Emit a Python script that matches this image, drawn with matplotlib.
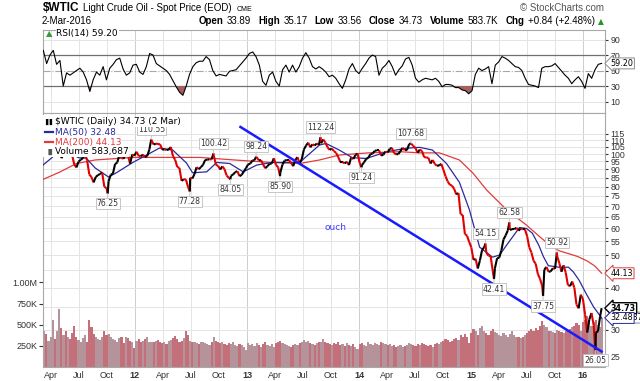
import numpy as np
import pandas as pd
import matplotlib
matplotlib.use('Agg')
import matplotlib.pyplot as plt
import matplotlib.dates as mdates
from matplotlib.collections import LineCollection
from matplotlib.patches import Rectangle
from matplotlib.ticker import NullLocator

plt.rcParams['font.family'] = ['Liberation Sans', 'DejaVu Sans']

# ---------------- data ----------------
# weekly closes (Fridays) of $WTIC
close_2011 = [101.2, 101.1, 105.4, 107.9, 112.8, 109.7, 112.3, 113.9, 97.2, 99.7,
              99.5, 100.6, 100.2, 99.3, 93.0, 91.2, 94.9, 96.2, 97.2, 99.9,
              95.7, 86.9, 85.4, 82.3, 85.4, 86.5, 87.2, 88.0, 79.9, 79.2,
              83.0, 86.8, 87.4, 93.3, 94.3, 99.0, 97.4, 96.8, 101.0, 99.4,
              93.5, 99.7, 98.8]
close_2012 = [101.6, 98.7, 98.5, 99.6, 97.8, 98.7, 103.2, 109.8, 106.7, 107.4,
              107.1, 106.9, 103.0, 103.3, 102.8, 103.1, 104.9, 98.5, 96.1, 91.5,
              90.9, 83.2, 84.1, 84.0, 79.8, 85.0, 84.5, 87.1, 91.4, 90.1,
              91.4, 92.9, 96.0, 96.2, 96.5, 96.4, 99.0, 92.9, 92.2, 89.9,
              91.9, 90.1, 86.3, 84.9, 86.1, 86.9, 88.3, 88.9, 85.9, 86.7,
              88.7, 90.8]
close_2013 = [93.1, 93.6, 95.6, 95.9, 97.8, 95.7, 95.9, 93.1, 90.7, 92.0,
              93.5, 93.7, 97.2, 92.7, 91.3, 88.0, 93.0, 95.6, 96.0, 96.0,
              94.2, 92.0, 96.0, 97.9, 93.7, 96.6, 103.2, 106.0, 108.1, 104.7,
              106.9, 106.0, 107.5, 106.4, 107.7, 110.5, 108.2, 104.7, 102.9, 103.8,
              102.0, 100.8, 97.9, 94.6, 94.6, 93.8, 94.8, 92.7, 97.7, 96.6,
              99.3, 100.3]
close_2014 = [94.0, 92.7, 94.4, 96.6, 97.5, 99.9, 100.3, 102.2, 102.6, 102.6,
              98.9, 99.5, 101.7, 101.1, 103.7, 104.3, 100.6, 99.8, 100.0, 102.0,
              104.4, 102.7, 102.7, 106.9, 107.3, 105.7, 104.1, 100.8, 103.1, 102.1,
              97.9, 97.7, 97.4, 93.7, 96.0, 93.3, 92.3, 92.4, 93.5, 89.7,
              85.8, 82.8, 81.0, 80.5, 78.7, 75.8, 76.5, 66.2, 65.8, 57.8,
              57.1, 54.7]
close_2015 = [52.7, 48.4, 48.7, 45.6, 48.2, 51.7, 52.8, 50.8, 49.8, 49.6,
              44.8, 45.7, 48.9, 49.1, 51.6, 55.7, 57.2, 59.2, 59.4, 59.7,
              59.7, 60.3, 59.1, 60.0, 59.6, 59.6, 56.9, 52.7, 50.9, 48.1,
              47.1, 43.9, 42.5, 40.5, 45.2, 46.1, 44.6, 44.7, 45.7, 45.5,
              49.6, 47.3, 44.6, 46.6, 44.3, 40.7, 40.4, 41.7, 40.0, 35.6,
              34.7, 38.1]
close_2016 = [37.0, 33.2, 29.4, 32.2, 33.6, 30.9, 29.4, 29.6, 32.8]
close_wk = close_2011 + close_2012 + close_2013 + close_2014 + close_2015 + close_2016
week_dates = pd.date_range('2011-03-11', '2016-02-26', freq='W-FRI')

# weekly volume, thousands
vol_2011 = [430, 390, 310, 360, 560, 330, 420, 690, 460, 380,
            430, 350, 330, 400, 480, 360, 320, 300, 340, 380,
            290, 550, 470, 390, 350, 330, 320, 360, 420, 380,
            390, 350, 330, 320, 300, 340, 350, 280, 360, 340,
            310, 290, 220]
vol_2012 = [310, 330, 290, 310, 330, 350, 300, 290, 300, 310,
            320, 300, 280, 290, 270, 310, 320, 340, 370, 330,
            300, 310, 340, 430, 380, 310, 300, 290, 280, 270,
            300, 290, 280, 270, 260, 300, 350, 310, 290, 280,
            300, 270, 260, 280, 270, 290, 260, 250, 270, 260,
            240, 200]
vol_2013 = [280, 260, 270, 250, 280, 260, 240, 270, 290, 260,
            250, 270, 240, 280, 300, 310, 280, 270, 260, 250,
            240, 260, 270, 260, 280, 290, 320, 300, 310, 280,
            270, 260, 280, 290, 300, 330, 300, 280, 270, 260,
            280, 270, 290, 260, 270, 250, 280, 260, 250, 270,
            240, 210]
vol_2014 = [270, 280, 260, 250, 290, 270, 260, 280, 270, 260,
            300, 280, 270, 260, 270, 250, 260, 240, 250, 260,
            240, 250, 260, 280, 270, 260, 250, 270, 260, 280,
            270, 260, 250, 260, 240, 270, 280, 270, 290, 310,
            330, 320, 300, 310, 330, 340, 320, 380, 360, 390,
            350, 280]
vol_2015 = [400, 450, 420, 380, 460, 480, 430, 400, 380, 420,
            450, 410, 400, 380, 370, 400, 380, 360, 390, 420,
            380, 360, 350, 340, 360, 380, 400, 420, 450, 430,
            460, 440, 480, 540, 500, 470, 430, 420, 410, 400,
            440, 430, 410, 400, 420, 440, 450, 470, 480, 520,
            500, 420]
vol_2016 = [530, 560, 600, 520, 480, 530, 560, 500, 470]
vol_wk = vol_2011 + vol_2012 + vol_2013 + vol_2014 + vol_2015 + vol_2016

last_date = pd.Timestamp('2016-03-02')
last_close = 34.73
last_volume = 583687
hdr_open, hdr_high, hdr_low = 33.89, 35.17, 33.56
hdr_chg, hdr_chg_pct = 0.84, 2.48

# labelled swing highs / lows
swing_dates = pd.to_datetime(['2011-10-04', '2012-02-23', '2012-06-28', '2012-09-13',
                              '2012-11-07', '2013-01-30', '2013-04-18', '2013-08-28',
                              '2014-01-09', '2014-06-19', '2015-02-17', '2015-03-17',
                              '2015-05-06', '2015-08-24', '2015-10-08', '2016-02-11'])
swing_values = [76.25, 110.55, 77.28, 100.42, 84.05, 98.24, 85.90, 112.24,
                91.24, 107.68, 54.15, 42.41, 62.58, 37.75, 50.92, 26.05]
swing_low = [1, 0, 1, 0, 1, 0, 1, 0, 1, 0, 0, 1, 0, 1, 0, 1]

ma50_dates = pd.to_datetime([
    '2011-03-07', '2011-04-06', '2011-05-01', '2011-06-01', '2011-07-01', '2011-07-26',
    '2011-08-24', '2011-10-07', '2011-11-02', '2011-12-25', '2012-02-08', '2012-03-21',
    '2012-05-03', '2012-06-17', '2012-07-07', '2012-08-22', '2012-09-24', '2012-11-05',
    '2012-12-19', '2013-02-01', '2013-03-24', '2013-05-09', '2013-06-21', '2013-08-25',
    '2013-09-15', '2013-10-28', '2013-12-10', '2014-01-25', '2014-04-01', '2014-06-05',
    '2014-07-17', '2014-08-28', '2014-10-13', '2014-11-24', '2014-12-27', '2015-01-29',
    '2015-03-12', '2015-04-04', '2015-04-27', '2015-06-08', '2015-07-01', '2015-07-20',
    '2015-08-10', '2015-08-25', '2015-09-10', '2015-10-15', '2015-11-15', '2015-12-01',
    '2015-12-20', '2016-01-10', '2016-02-05', '2016-03-02'])
ma50_values = [92.7, 97.7, 104.0, 101.0, 97.5, 97.2, 90.9, 85.4, 88.0, 94.4,
               99.3, 104.2, 102.8, 94.0, 87.9, 88.5, 94.4, 93.7, 88.5, 92.7,
               94.4, 94.4, 94.4, 106.4, 107.5, 102.8, 97.5, 97.0, 101.6, 104.1,
               104.7, 102.8, 93.7, 82.4, 68.1, 52.8, 49.3, 50.0, 53.5, 60.4,
               60.0, 58.1, 53.5, 49.5, 46.5, 46.0, 46.0, 44.5, 42.0, 38.6,
               35.0, 32.48]

ma200_dates = pd.to_datetime([
    '2011-03-07', '2011-04-30', '2011-06-24', '2011-08-24', '2011-12-25', '2012-04-15',
    '2012-08-01', '2012-11-20', '2013-03-20', '2013-06-21', '2013-08-25', '2013-10-28',
    '2014-02-01', '2014-05-15', '2014-07-17', '2014-09-20', '2014-11-24', '2015-01-07',
    '2015-02-21', '2015-04-28', '2015-07-01', '2015-08-15', '2015-09-15', '2015-10-15',
    '2015-11-15', '2015-12-15', '2016-01-15', '2016-02-10', '2016-03-02'])
ma200_values = [84.0, 88.3, 93.7, 96.0, 97.7, 97.7, 97.7, 96.0, 94.4, 93.7,
                96.0, 99.3, 100.8, 101.6, 100.8, 100.8, 96.0, 87.8, 78.1, 68.1,
                61.4, 56.5, 53.5, 51.5, 50.5, 49.5, 48.0, 46.3, 44.13]

# RSI(14), read roughly every 11 days
rsi_a = [76, 59, 70, 76, 58, 63, 30, 47, 44, 47,
         50, 53, 48, 38, 23, 38, 48, 44, 55, 38,
         53, 58, 64, 66, 52, 44, 47, 57, 58, 48,
         45, 55, 72, 70, 59, 56, 53, 50, 45, 37,
         29, 22, 18, 30, 45, 55, 60, 62, 62, 68,
         64, 50, 43, 45, 44, 43, 49, 50, 51, 56,
         61, 66, 72, 74, 68, 57, 36, 31, 44, 48,
         36, 30, 51, 57, 48, 57, 48, 55, 66, 73,
         66, 55, 52]
rsi_b = [55, 52, 48, 42, 44, 40, 33, 27, 38, 52,
         59, 50, 46, 53, 59, 66, 70, 68, 44, 53,
         57, 63, 55, 44, 51, 56, 65, 67, 57, 40,
         35, 38, 40, 39, 38, 40, 36, 29, 32, 32,
         31, 28, 28, 25, 24, 20, 24, 45, 53, 50,
         52, 55, 33, 57, 61, 68, 66, 63, 59, 55,
         54, 50, 40, 32, 31, 30, 28, 53, 55, 55,
         56, 59, 54, 49, 44, 40, 33, 38, 42, 36,
         27, 46, 40, 51, 58, 59.20]
rsi_values = rsi_a + rsi_b
rsi_dates = pd.date_range('2011-03-08', '2016-03-02', periods=len(rsi_values))

trend_dates = pd.to_datetime(['2012-12-10', '2016-03-02'])
trend_values = [120.4, 25.8]
note_date, note_value = pd.Timestamp('2013-09-10'), 60.5

price_ticks = [25, 30, 35, 40, 45, 50, 55, 60, 65, 70, 75, 80, 85, 90, 95, 100, 105, 110, 115]
vol_ticks = [250e3, 500e3, 750e3, 1e6]
vol_labels = ['250K', '500K', '750K', '1.00M']

# ---------------- style ----------------
UP, DOWN = '#000000', '#e00000'
MA50_C, MA200_C = '#2a2a9c', '#e23b3b'
GRID, GRID_YEAR, SPINE = '#e4e4e4', '#cdcdcd', '#a8a8a8'
VOL_RED, VOL_GREY = '#c4707a', '#b4949a'
PANEL_FONT = ['DejaVu Sans']

W, H = 640, 381
fig = plt.figure(figsize=(W / 100, H / 100), dpi=100)


def px_box(x0, y0, x1, y1):
    return [x0 / W, 1 - y1 / H, (x1 - x0) / W, (y1 - y0) / H]


ax_rsi = fig.add_axes(px_box(43, 30, 605, 113))
ax_vol = fig.add_axes(px_box(43, 113, 605, 367))
ax = fig.add_axes(px_box(43, 113, 605, 367))
ax.patch.set_visible(False)

xlim = mdates.date2num([pd.Timestamp('2011-03-07'), pd.Timestamp('2016-03-13')])
quarters = pd.date_range('2011-04-01', '2016-01-01', freq='QS')
qnum = mdates.date2num(quarters)

for a in (ax_rsi, ax_vol, ax):
    a.set_xlim(xlim)
    for s in a.spines.values():
        s.set_color(SPINE)
        s.set_linewidth(0.8)
for s in ax_vol.spines.values():
    s.set_visible(False)

for q, qd in zip(qnum, quarters):
    c = GRID_YEAR if qd.month == 1 else GRID
    ax_rsi.axvline(q, color=c, lw=0.7, zorder=0)
    ax_vol.axvline(q, color=c, lw=0.7, zorder=0)

# ---- RSI panel ----
rsi_x = mdates.date2num(rsi_dates)
rsi_arr = np.array(rsi_values, dtype=float)
for lv in (10, 90):
    ax_rsi.axhline(lv, color=GRID, lw=0.7, zorder=0)
ax_rsi.axhline(70, color='#707070', lw=0.9, zorder=1)
ax_rsi.axhline(30, color='#707070', lw=0.9, zorder=1)
ax_rsi.axhline(50, color='#a8a8a8', lw=0.8, ls='-.', zorder=1)
ax_rsi.fill_between(rsi_x, rsi_arr, 30, where=rsi_arr < 30, interpolate=True,
                    color='#a55f5f', lw=0, zorder=2)
ax_rsi.plot(rsi_x, rsi_arr, color='black', lw=0.8, zorder=3)
ax_rsi.set_ylim(-4.8, 102.3)
ax_rsi.yaxis.tick_right()
ax_rsi.set_yticks([10, 30, 50, 70, 90])
ax_rsi.tick_params(axis='y', length=2.5, pad=1.5, labelsize=6.3, colors='#333333')
ax_rsi.set_xticks(qnum)
ax_rsi.tick_params(axis='x', length=0, labelbottom=False)
ax_rsi.text(0.005, 0.955, '\u25b2', transform=ax_rsi.transAxes, fontsize=6,
            color='#3a9a3a', va='center', family=PANEL_FONT, zorder=6)
ax_rsi.text(0.024, 0.955, f'RSI(14) {rsi_values[-1]:.2f}', transform=ax_rsi.transAxes,
            fontsize=6.5, va='center', family=PANEL_FONT, zorder=6,
            bbox=dict(fc='white', ec='none', pad=0.5))
ax_rsi.annotate(f'{rsi_values[-1]:.2f}', xy=(1, rsi_values[-1]),
                xycoords=ax_rsi.get_yaxis_transform(), xytext=(4, 0),
                textcoords='offset points', ha='left', va='center', fontsize=5.8,
                family=PANEL_FONT, annotation_clip=False, zorder=10,
                bbox=dict(boxstyle='larrow,pad=0.12', fc='white', ec='#8a8a8a', lw=0.7))

# ---- volume (under price) ----
vol_dates = week_dates.append(pd.DatetimeIndex([last_date]))
vol_arr = np.array(vol_wk + [last_volume / 1000.0]) * 1000
wk_close = np.array(close_wk + [last_close])
down = np.r_[False, wk_close[1:] < wk_close[:-1]]
ax_vol.bar(mdates.date2num(vol_dates), vol_arr, width=7,
           color=np.where(down, VOL_RED, VOL_GREY), lw=0, zorder=2)
ax_vol.set_ylim(0, 3.0e6)
ax_vol.set_yticks(vol_ticks, labels=vol_labels)
ax_vol.tick_params(axis='y', length=3, pad=1, labelsize=6.5, colors='#333333')
ax_vol.set_xticks(qnum)
ax_vol.tick_params(axis='x', length=0, labelbottom=False)
ax_vol.annotate(f'{last_volume:,}', xy=(1, last_volume), xycoords=ax_vol.get_yaxis_transform(),
                xytext=(4, 0), textcoords='offset points', ha='left', va='center',
                fontsize=5.8, family=PANEL_FONT, annotation_clip=False, zorder=9,
                bbox=dict(boxstyle='larrow,pad=0.12', fc='white', ec='#8a8a8a', lw=0.7))

# ---- price panel ----
ax.set_yscale('log')
ax.set_ylim(23.2, 132.5)
ax.set_yticks(price_ticks, labels=[str(t) for t in price_ticks])
ax.yaxis.set_minor_locator(NullLocator())
ax.yaxis.tick_right()
ax.tick_params(axis='y', length=2.5, pad=1.5, labelsize=6.3, colors='#333333')
for p in price_ticks:
    ax_vol.plot([0, 1], [p, p], transform=ax.get_yaxis_transform(), color=GRID,
                lw=0.7, zorder=1)

ax.set_xticks(qnum, labels=[d.strftime('%y') if d.month == 1 else d.strftime('%b')
                            for d in quarters])
ax.tick_params(axis='x', length=0, pad=3, labelsize=6.5, colors='#333333')
for lbl in ax.get_xticklabels():
    if lbl.get_text().isdigit():
        lbl.set_fontweight('bold')

ax.plot(mdates.date2num(ma200_dates), ma200_values, color=MA200_C, lw=0.9, zorder=3)
ax.plot(mdates.date2num(ma50_dates), ma50_values, color=MA50_C, lw=0.9, zorder=3)

px = pd.Series(close_wk + [last_close] + swing_values,
               index=week_dates.append(pd.DatetimeIndex([last_date])).append(swing_dates)).sort_index()
xn = mdates.date2num(px.index)
yv = px.values
segs = np.stack([np.column_stack([xn[:-1], yv[:-1]]), np.column_stack([xn[1:], yv[1:]])], axis=1)
seg_colors = np.where(yv[1:] >= yv[:-1], UP, DOWN)
ax.add_collection(LineCollection(segs, colors=seg_colors, linewidths=1.5, zorder=4))

ax.plot(mdates.date2num(trend_dates), trend_values, color='#1a1aff', lw=1.8, zorder=5)
ax.text(mdates.date2num(note_date), note_value, 'ouch', color='#3a3aff', fontsize=6.5,
        ha='left', va='center', family=PANEL_FONT)

for d, v, low in zip(swing_dates, swing_values, swing_low):
    ax.annotate(f'{v:.2f}', xy=(mdates.date2num(d), v), xytext=(0, -4 if low else 4),
                textcoords='offset points', ha='center', va='top' if low else 'bottom',
                fontsize=5.6, color='#333333', family=PANEL_FONT, zorder=6,
                bbox=dict(boxstyle='square,pad=0.15', fc='white', ec='#bdbdbd', lw=0.6),
                arrowprops=dict(arrowstyle='-', color='#bdbdbd', lw=0.6, shrinkA=0, shrinkB=0))

# right-hand value tags
for val, ec, weight in ((ma200_values[-1], MA200_C, 'normal'),
                        (last_close, '#000000', 'bold'),
                        (ma50_values[-1], MA50_C, 'normal')):
    ax.annotate(f'{val:.2f}', xy=(1, val), xycoords=ax.get_yaxis_transform(), xytext=(4, 0),
                textcoords='offset points', ha='left', va='center', fontsize=5.8,
                fontweight=weight, family=PANEL_FONT, annotation_clip=False, zorder=10,
                bbox=dict(boxstyle='larrow,pad=0.12', fc='white', ec=ec,
                          lw=1.0 if weight == 'bold' else 0.7))

# panel legend
leg_rows = [(f'$WTIC (Daily) {last_close:.2f} ({last_date.day} {last_date:%b})', 'black'),
            (f'MA(50) {ma50_values[-1]:.2f}', MA50_C),
            (f'MA(200) {ma200_values[-1]:.2f}', MA200_C),
            (f'Volume {last_volume:,}', 'black')]
leg_y = [0.9646, 0.925, 0.8858, 0.8465]
ax.add_patch(Rectangle((0, 0.828), 0.022, 0.165, transform=ax.transAxes,
                       fc='white', ec='none', zorder=6))
for (txt, col), y in zip(leg_rows, leg_y):
    ax.text(0.021, y, txt, transform=ax.transAxes, fontsize=6.5, color=col, va='center',
            family=PANEL_FONT, zorder=7, bbox=dict(fc='white', ec='none', pad=0.6))
for y, col in ((leg_y[1], MA50_C), (leg_y[2], MA200_C)):
    ax.plot([0.004, 0.018], [y, y], transform=ax.transAxes, color=col, lw=1.6, zorder=8)
ax.text(0.004, leg_y[0], '\u258c\u258c', transform=ax.transAxes, fontsize=4.5, va='center',
        family=PANEL_FONT, zorder=8)
ax.text(0.004, leg_y[3], '\u2590\u258c', transform=ax.transAxes, fontsize=4.5, va='center',
        color='#555555', family=PANEL_FONT, zorder=8)

# ---------------- header ----------------


def place(text, x, y, ha='left', **kw):
    return ax_rsi.annotate(text, xy=(x, y), xycoords='figure fraction', ha=ha,
                           va='baseline', annotation_clip=False, **kw)


def chain(prev, text, gap, y, ha='left', **kw):
    return ax_rsi.annotate(text, xy=(1 if ha == 'left' else 0, y),
                           xycoords=(prev, 'figure fraction'),
                           xytext=(gap if ha == 'left' else -gap, 0), textcoords='offset points',
                           ha=ha, va='baseline', annotation_clip=False, **kw)


y1 = 1 - 11 / H
y2 = 1 - 24 / H
t = place('$WTIC', 43 / W, y1, fontsize=8.5, fontweight='bold')
t = chain(t, 'Light Crude Oil - Spot Price (EOD)', 2.5, y1, fontsize=7)
chain(t, 'CME', 3.5, y1, fontsize=5)
place('\u00a9 StockCharts.com', 604 / W, y1, ha='right', fontsize=7, color='#555555')
place(last_date.strftime('%-d-%b-%Y'), 42 / W, y2, fontsize=7)

pieces = [('\u25b2', 0, dict(fontsize=5.5, color='#1f9a1f', family=PANEL_FONT)),
          (f'{hdr_chg:+.2f} ({hdr_chg_pct:+.2f}%)', 2.5, {}),
          ('Chg', 2.5, dict(fontweight='bold')),
          (f'{last_volume / 1000:.1f}K', 5, {}),
          ('Volume', 2.5, dict(fontweight='bold')),
          (f'{last_close:.2f}', 5, {}),
          ('Close', 2.5, dict(fontweight='bold')),
          (f'{hdr_low:.2f}', 5, {}),
          ('Low', 2.5, dict(fontweight='bold')),
          (f'{hdr_high:.2f}', 5, {}),
          ('High', 2.5, dict(fontweight='bold')),
          (f'{hdr_open:.2f}', 5, {}),
          ('Open', 2.5, dict(fontweight='bold'))]
prev = None
for text, gap, kw in pieces:
    kw = dict(kw)
    kw.setdefault('fontsize', 7)
    if prev is None:
        prev = place(text, 604 / W, y2, ha='right', **kw)
    else:
        prev = chain(prev, text, gap, y2, ha='right', **kw)

fig.savefig('out.png', dpi=100)
